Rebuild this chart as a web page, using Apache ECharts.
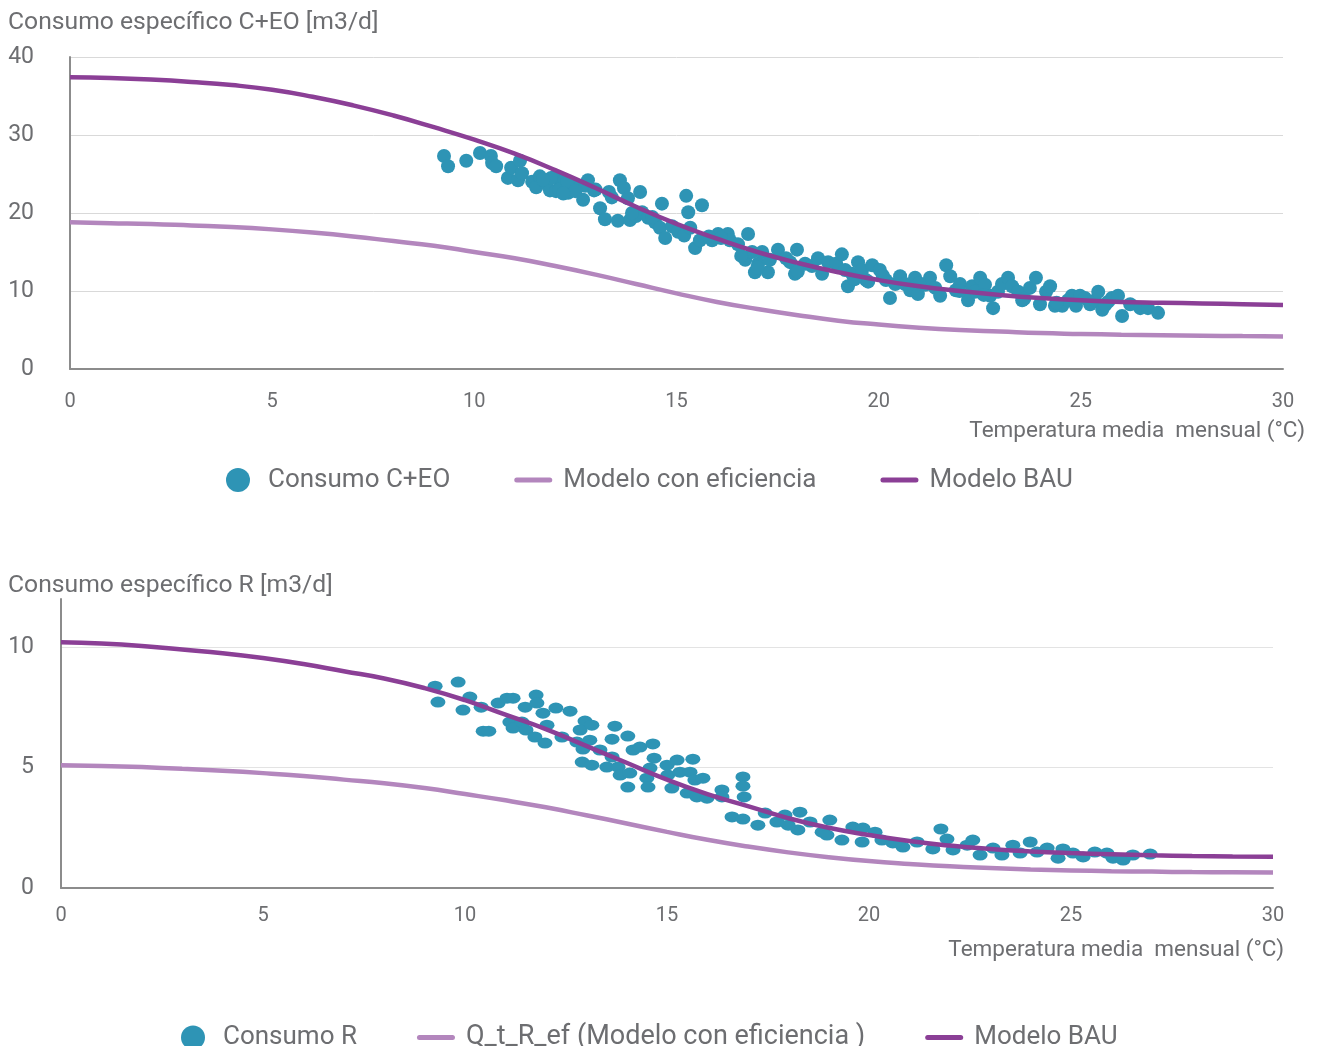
<!DOCTYPE html>
<meta charset="utf-8">
<html>
<head>
  <title>Consumo especifico</title>
  <script src="https://cdn.jsdelivr.net/npm/echarts@6/dist/echarts.min.js"></script>
</head>
<body style="margin:0">
  <div id="container" style="height: 1046px; width: 1322px"></div>
  <script>
    // temperatura media mensual (°C) para las curvas de modelo
    var temps = [0,1,2,3,4,5,6,7,8,9,10,11,12,13,14,15,16,17,18,19,20,21,22,23,24,25,26,27,28,29,30];

    // grafico C+EO
    var bauCEO = [37.4,37.3,37.1,36.8,36.4,35.8,34.9,33.8,32.5,31.0,29.4,27.6,25.5,23.2,20.8,18.6,16.7,15.0,13.6,12.4,11.4,10.6,10.0,9.5,9.1,8.8,8.6,8.5,8.4,8.3,8.2];
    var efCEO = [18.8,18.7,18.6,18.4,18.2,17.9,17.5,17.0,16.4,15.8,15.0,14.2,13.2,12.1,10.9,9.7,8.6,7.7,6.9,6.2,5.7,5.3,5.0,4.8,4.6,4.5,4.4,4.33,4.27,4.22,4.18];
    var puntosCEO = [
      [9.25,27.3],[9.35,26.0],[9.8,26.7],[10.14,27.7],[10.41,27.3],[10.44,26.4],[10.54,26.0],[10.83,24.5],
      [10.91,25.8],[11.08,24.2],[11.13,26.7],[11.18,25.1],[11.43,24.0],[11.53,23.3],[11.62,24.7],[11.77,23.8],
      [11.87,22.9],[12.0,24.7],[12.02,22.8],[12.12,23.5],[12.24,24.2],[12.32,22.6],[12.47,23.5],[12.69,21.7],
      [12.74,23.5],[12.81,24.2],[12.96,22.9],[13.11,20.6],[13.23,19.2],[13.33,22.7],[13.55,19.0],[13.6,24.2],
      [13.7,23.2],[13.8,21.9],[13.85,19.1],[14.0,19.6],[14.1,22.7],[14.15,20.1],[14.3,19.4],[14.47,18.8],
      [14.59,18.1],[14.64,21.2],[14.72,16.8],[14.89,18.3],[15.04,17.6],[15.19,17.1],[15.24,22.2],[15.29,20.1],
      [15.34,18.1],[15.46,15.5],[15.58,16.5],[15.63,21.0],[15.88,16.5],[16.03,17.3],[16.27,17.3],[16.32,16.5],
      [16.52,16.0],[16.7,14.0],[16.77,17.3],[16.87,15.0],[16.94,12.4],[17.02,13.5],[17.12,15.0],[17.26,12.4],
      [17.31,14.0],[17.51,15.3],[17.71,14.2],[17.81,13.7],[17.93,12.2],[17.98,15.3],[18.18,13.5],[18.35,13.2],
      [18.5,14.2],[18.6,12.2],[18.75,13.7],[18.95,13.5],[19.09,14.7],[19.17,12.7],[19.24,10.6],[19.34,12.2],
      [19.49,13.7],[19.59,12.7],[19.69,11.4],[19.74,11.2],[19.84,13.3],[20.03,12.7],[20.18,11.4],[20.28,9.1],
      [20.41,10.9],[20.53,11.9],[20.65,10.9],[20.78,10.1],[20.9,11.7],[20.97,9.6],[21.15,10.8],[21.27,11.7],
      [21.4,10.4],[21.52,9.4],[21.67,13.3],[21.77,11.9],[21.91,10.1],[22.01,10.9],[22.21,8.8],[22.31,10.6],
      [22.38,9.9],[22.51,11.7],[22.63,10.8],[22.76,9.4],[22.83,7.8],[22.95,9.9],[23.05,10.9],[23.2,11.7],
      [23.3,10.6],[23.45,9.9],[23.55,8.8],[23.74,10.4],[23.89,11.7],[23.99,8.3],[24.14,9.9],[24.24,10.6],
      [24.36,8.1],[24.54,8.1],[24.68,8.8],[24.78,9.4],[24.88,8.1],[24.98,9.4],[25.1,9.1],[25.23,8.3],
      [25.35,8.8],[25.43,9.9],[25.53,7.6],[25.67,8.6],[25.77,9.1],[25.92,9.4],[26.02,6.8],[26.22,8.3],
      [26.47,7.8],[26.66,7.8],[26.91,7.2],
      [11.9,24.5],[12.1,23.0],[12.3,24.0],[12.5,22.8],[12.2,22.5],[11.7,24.3],[13.0,23.0],[13.4,22.0],
      [13.9,20.0],[14.4,19.5],[15.8,17.0],[16.1,16.8],[16.6,14.5],[17.0,13.0],[18.0,12.5],[19.4,11.5],
      [20.1,12.0],[21.0,11.0],[22.0,10.0],[22.6,9.5],[23.6,9.0],[24.4,8.5],[25.6,8.2]
    ];

    // grafico R
    var bauR = [10.2,10.15,10.05,9.9,9.75,9.55,9.3,9.0,8.7,8.3,7.8,7.2,6.6,5.9,5.2,4.5,3.9,3.4,2.9,2.5,2.2,1.95,1.76,1.62,1.52,1.45,1.4,1.36,1.33,1.31,1.3];
    var efR = [5.1,5.07,5.02,4.95,4.87,4.77,4.65,4.5,4.35,4.15,3.9,3.64,3.35,3.02,2.68,2.33,2.0,1.72,1.48,1.28,1.12,1.0,0.9,0.83,0.77,0.73,0.7,0.68,0.66,0.65,0.64];
    var puntosR = [
      [9.26,8.38],[9.83,8.55],[9.33,7.72],[10.12,7.93],[9.95,7.39],[10.4,7.51],[10.45,6.51],[10.59,6.51],
      [10.82,7.68],[11.04,7.88],[11.19,7.88],[11.11,6.89],[11.19,6.64],[11.49,7.51],[11.76,8.01],[11.78,7.68],
      [11.41,6.89],[11.51,6.56],[11.73,6.27],[11.93,7.26],[12.03,6.76],[11.98,6.02],[12.25,7.47],[12.4,6.27],
      [12.6,7.34],[12.97,6.93],[12.85,6.56],[13.14,6.76],[12.77,6.06],[13.09,6.14],[12.92,5.77],[13.34,5.73],
      [12.9,5.23],[13.14,5.1],[13.71,6.72],[13.64,6.18],[14.03,6.31],[14.16,5.73],[14.33,5.85],[13.64,5.44],
      [13.51,5.02],[13.79,5.02],[13.84,4.69],[14.08,4.77],[14.03,4.19],[14.65,5.98],[14.68,5.39],[14.58,4.98],
      [14.5,4.56],[14.53,4.19],[15.0,5.1],[15.25,5.31],[15.02,4.69],[15.32,4.81],[15.12,4.15],[15.64,5.35],
      [15.57,4.81],[15.69,4.48],[15.89,4.56],[15.5,3.94],[15.74,3.78],[15.99,3.73],[16.36,4.07],[16.36,3.78],
      [16.88,4.61],[16.88,4.23],[16.91,3.78],[16.61,2.95],[16.88,2.86],[17.25,2.61],[17.43,3.11],[17.72,2.74],
      [17.92,3.03],[18.29,3.15],[18.24,2.41],[18.0,2.61],[18.54,2.74],[18.84,2.32],[19.03,2.82],[18.96,2.2],
      [19.33,1.99],[19.6,2.53],[19.85,2.49],[19.83,1.91],[20.15,2.32],[20.32,1.99],[20.59,1.87],[20.84,1.7],
      [21.19,1.91],[21.58,1.62],[21.78,2.45],[21.93,2.03],[22.08,1.58],[22.43,1.78],[22.57,1.99],[22.75,1.37],
      [23.07,1.66],[23.29,1.37],[23.56,1.78],[23.74,1.45],[23.99,1.91],[24.16,1.49],[24.41,1.66],[24.68,1.24],
      [24.8,1.62],[25.05,1.45],[25.3,1.29],[25.59,1.49],[25.89,1.45],[26.04,1.24],[26.29,1.16],[26.53,1.37],
      [26.96,1.41]
    ];

    var gris = '#6d6e71';
    var fuente = 'Roboto';
    var colPunto = '#2e94b5';
    var colBAU = '#8b3f96';
    var colEf = '#b386bd';
    var iconoLinea = 'path://M2.5,0L35.5,0A2.5,2.5,0,0,1,35.5,5L2.5,5A2.5,2.5,0,0,1,2.5,0Z';

    function pares(xs, ys) {
      return xs.map(function (x, i) { return [x, ys[i]]; });
    }

    var dom = document.getElementById('container');
    var myChart = echarts.init(dom);

    function ejeX(idx, nameGap, margin) {
      return {
        type: 'value', gridIndex: idx, min: 0, max: 30, interval: 5,
        name: 'Temperatura media  mensual (°C)', nameLocation: 'end', nameGap: nameGap,
        nameTextStyle: { color: gris, fontSize: 22.5, fontFamily: fuente, align: 'right', verticalAlign: 'top', padding: [51, 0, 0, 0] },
        axisLine: { show: true, onZero: false, lineStyle: { color: '#8c8c8c', width: 2 } },
        axisTick: { show: false },
        axisLabel: { color: gris, fontSize: 20, fontFamily: fuente, margin: margin },
        splitLine: { show: false }
      };
    }

    function linea(nombre, xi, datos, color) {
      return {
        name: nombre, type: 'line', xAxisIndex: xi, yAxisIndex: xi,
        data: datos, smooth: true, symbol: 'none',
        lineStyle: { color: color, width: 4.5 }, itemStyle: { color: color }
      };
    }

    var option = {
      animation: false,
      title: [
        { text: 'Consumo específico C+EO [m3/d]', left: 3, top: 5, textStyle: { color: gris, fontSize: 24.7, fontWeight: 'normal', fontFamily: fuente } },
        { text: 'Consumo específico R [m3/d]', left: 3, top: 568, textStyle: { color: gris, fontSize: 24.7, fontWeight: 'normal', fontFamily: fuente } }
      ],
      legend: [
        {
          left: 221, top: 462, itemWidth: 38, itemHeight: 24, itemGap: 64,
          textStyle: { color: gris, fontSize: 26, fontFamily: fuente, padding: [0, 0, 0, 6] },
          data: [
            { name: 'Consumo C+EO', icon: 'circle' },
            { name: 'Modelo con eficiencia', icon: iconoLinea },
            { name: 'Modelo BAU', icon: iconoLinea }
          ]
        },
        {
          left: 176, top: 1019, itemWidth: 38, itemHeight: 24, itemGap: 60,
          textStyle: { color: gris, fontSize: 26, fontFamily: fuente, padding: [0, 0, 0, 6] },
          data: [
            { name: 'Consumo R', icon: 'circle' },
            { name: 'Q_t_R_ef (Modelo con eficiencia )', icon: iconoLinea, textStyle: { fontSize: 27 } },
            { name: 'Modelo BAU', icon: iconoLinea }
          ]
        }
      ],
      grid: [
        { left: 70, right: 39, top: 57, height: 312 },
        { left: 61, right: 49, top: 599, height: 289 }
      ],
      xAxis: [ejeX(0, 22, 23), ejeX(1, 11, 18)],
      yAxis: [
        {
          type: 'value', gridIndex: 0, min: 0, max: 40, interval: 10,
          axisLine: { show: true, lineStyle: { color: '#8c8c8c', width: 2 } },
          axisTick: { show: false },
          axisLabel: { color: gris, fontSize: 23, fontFamily: fuente, margin: 36 },
          splitLine: { show: true, lineStyle: { color: '#d9d9d9', width: 1 } }
        },
        {
          type: 'value', gridIndex: 1, min: 0, max: 12, interval: 5,
          axisLine: { show: true, lineStyle: { color: '#8c8c8c', width: 2 } },
          axisTick: { show: false },
          axisLabel: { color: gris, fontSize: 23, fontFamily: fuente, margin: 27, showMaxLabel: false },
          splitLine: { show: true, showMaxLine: false, lineStyle: { color: '#e3e3e3', width: 1 } }
        }
      ],
      series: [
        linea('Modelo con eficiencia', 0, pares(temps, efCEO), colEf),
        linea('Modelo BAU', 0, pares(temps, bauCEO), colBAU),
        {
          name: 'Consumo C+EO', type: 'scatter', xAxisIndex: 0, yAxisIndex: 0,
          data: puntosCEO, symbolSize: 14, itemStyle: { color: colPunto, opacity: 1 }
        },
        linea('Q_t_R_ef (Modelo con eficiencia )', 1, pares(temps, efR), colEf),
        linea('Modelo BAU', 1, pares(temps, bauR), colBAU),
        {
          name: 'Consumo R', type: 'scatter', xAxisIndex: 1, yAxisIndex: 1,
          data: puntosR, symbolSize: [15, 11], itemStyle: { color: colPunto, opacity: 1 }
        }
      ]
    };
    myChart.setOption(option);
    window.addEventListener('resize', myChart.resize);
  </script>
</body>
</html>
